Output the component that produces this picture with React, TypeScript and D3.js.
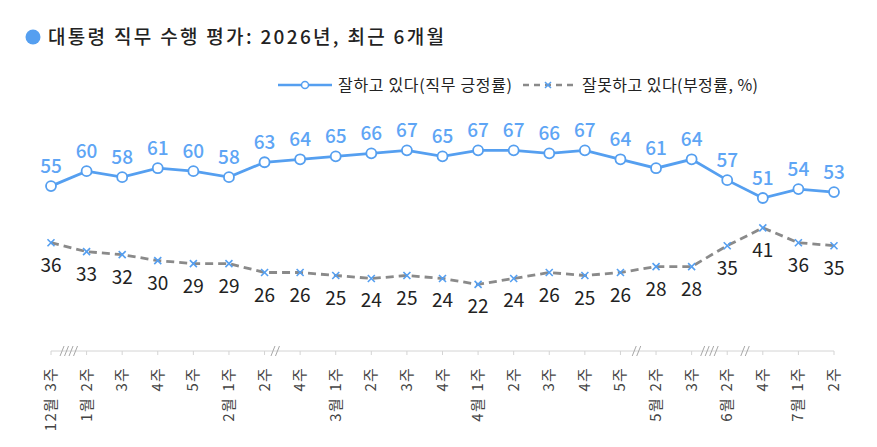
import * as d3 from "d3";

const width = 877;
const height = 447;

// weekly labels: month part (blank when unchanged) and week part
const months = ["12월", "1월", "", "", "", "2월", "", "", "3월", "", "", "", "4월", "", "", "", "", "5월", "", "6월", "", "7월", ""];
const weeks = ["3주", "2주", "3주", "4주", "5주", "1주", "2주", "4주", "1주", "2주", "3주", "4주", "1주", "2주", "3주", "4주", "5주", "2주", "3주", "2주", "4주", "1주", "2주"];

const positive = [55, 60, 58, 61, 60, 58, 63, 64, 65, 66, 67, 65, 67, 67, 66, 67, 64, 61, 64, 57, 51, 54, 53];
const negative = [36, 33, 32, 30, 29, 29, 26, 26, 25, 24, 25, 24, 22, 24, 26, 25, 26, 28, 28, 35, 41, 36, 35];

// gaps in the weekly sequence: [index before gap, number of slashes, offset in band]
const gaps: [number, number, number][] = [
  [0, 4, 0.5],
  [6, 2, 0.3],
  [16, 2, 0.45],
  [18, 4, 0.5],
  [19, 2, 0.5],
];

const blue = "#559ff0";
const gray = "#8a8a8a";
const font = "'Noto Sans CJK KR', 'Noto Sans', sans-serif";

const idx = d3.range(positive.length);

const App = () => {
  const x = d3.scaleLinear().domain([0, idx.length - 1]).range([51, 834]);
  const y = d3.scaleLinear().domain([0, 100]).range([350, 52]);
  const axisY = 351;
  const step = x(1) - x(0);

  const line = d3
    .line<number>()
    .x((_, i) => x(i))
    .y((d) => y(d));

  return (
    <svg width={width} height={height} style={{ display: "block", position: "absolute", left: 0, top: 0 }} fontFamily={font}>
      <rect width={width} height={height} fill="#fff" />

      {/* title */}
      <circle cx={33} cy={37} r={7.5} fill={blue} />
      <text x={48} y={44} fontSize={19} fill="#222" fontWeight={500} textLength={396}>
        대통령 직무 수행 평가: 2026년, 최근 6개월
      </text>

      {/* legend */}
      <g fontSize={16} fill="#222">
        <line x1={278} x2={332} y1={85} y2={85} stroke={blue} strokeWidth={2.5} />
        <circle cx={305} cy={85} r={3.5} fill="#fff" stroke={blue} strokeWidth={1.5} />
        <text x={338} y={90.5} textLength={174}>잘하고 있다(직무 긍정률)</text>
        <line x1={523} x2={578} y1={85} y2={85} stroke={gray} strokeWidth={2.5} strokeDasharray="6,5" />
        <g transform="translate(548,85)" stroke={blue} strokeWidth={1.5}>
          <line x1={-3} x2={3} y1={-3} y2={3} />
          <line x1={-3} x2={3} y1={3} y2={-3} />
        </g>
        <text x={582} y={90.5} textLength={176}>잘못하고 있다(부정률, %)</text>
      </g>

      {/* x axis */}
      <line x1={x(0)} x2={x(idx.length - 1)} y1={axisY} y2={axisY} stroke="#d4d4d4" strokeWidth={1} />
      {idx.map((i) => (
        <line key={`t${i}`} x1={x(i)} x2={x(i)} y1={axisY} y2={axisY + 4} stroke="#d4d4d4" />
      ))}
      {gaps.map(([i, n, off]) => {
        const cx = x(i) + step * off;
        return (
          <g key={`g${i}`} stroke="#a8a8a8" strokeWidth={1}>
            {d3.range(n).map((k) => {
              const px = cx + (k - (n - 1) / 2) * 4.5;
              return <line key={k} x1={px - 2} x2={px + 2} y1={axisY + 5} y2={axisY - 5} />;
            })}
          </g>
        );
      })}
      {idx.map((i) => (
        <text
          key={`l${i}`}
          transform={`translate(${x(i) + 5},${axisY + 16}) rotate(-90)`}
          textAnchor="end"
          fontSize={15}
          letterSpacing={1.2}
          wordSpacing={1}
          fill="#444"
        >
          {months[i] ? `${months[i]} ${weeks[i]}` : weeks[i]}
        </text>
      ))}

      {/* negative series */}
      <path d={line(negative) ?? ""} fill="none" stroke={gray} strokeWidth={2.8} strokeDasharray="8,5" />
      {negative.map((v, i) => (
        <g key={`nx${i}`} transform={`translate(${x(i)},${y(v)})`} stroke={blue} strokeWidth={1.6}>
          <line x1={-3.5} x2={3.5} y1={-3.5} y2={3.5} />
          <line x1={-3.5} x2={3.5} y1={3.5} y2={-3.5} />
        </g>
      ))}
      {negative.map((v, i) => (
        <text key={`nl${i}`} x={x(i)} y={y(v) + 29} textAnchor="middle" fontSize={19} fill="#222">
          {v}
        </text>
      ))}

      {/* positive series */}
      <path d={line(positive) ?? ""} fill="none" stroke={blue} strokeWidth={2.8} />
      {positive.map((v, i) => (
        <circle key={`pc${i}`} cx={x(i)} cy={y(v)} r={5} fill="#fff" stroke={blue} strokeWidth={1.8} />
      ))}
      {positive.map((v, i) => (
        <text key={`pl${i}`} x={x(i)} y={y(v) - 13} textAnchor="middle" fontSize={19} fill="#5ea5f5" fontWeight={500}>
          {v}
        </text>
      ))}
    </svg>
  );
};

export default App;
